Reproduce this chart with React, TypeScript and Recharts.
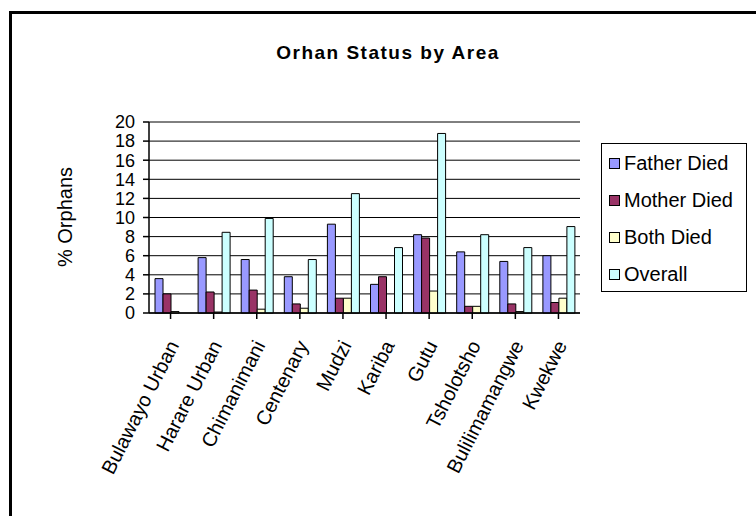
import { BarChart, Bar, XAxis, YAxis, CartesianGrid, ReferenceLine } from "recharts";

const areas = [
  "Bulawayo Urban",
  "Harare Urban",
  "Chimanimani",
  "Centenary",
  "Mudzi",
  "Kariba",
  "Gutu",
  "Tsholotsho",
  "Bulilimamangwe",
  "Kwekwe",
];
const fatherDied = [3.6, 5.8, 5.6, 3.8, 9.3, 3.0, 8.2, 6.4, 5.4, 6.0];
const motherDied = [2.0, 2.2, 2.4, 0.95, 1.55, 3.8, 7.85, 0.7, 0.95, 1.1];
const bothDied = [0.15, 0.1, 0.4, 0.5, 1.55, 0, 2.3, 0.7, 0.15, 1.55];
const overall = [null, 8.45, 9.9, 5.6, 12.5, 6.85, 18.8, 8.2, 6.85, 9.05];
const yTicks = [0, 2, 4, 6, 8, 10, 12, 14, 16, 18, 20];

const series = [
  { key: "father", name: "Father Died", color: "#9999FF" },
  { key: "mother", name: "Mother Died", color: "#993366" },
  { key: "both", name: "Both Died", color: "#FFFFCC" },
  { key: "overall", name: "Overall", color: "#CCFFFF" },
];

const data = areas.map((area, i) => ({
  area,
  father: fatherDied[i],
  mother: motherDied[i],
  both: bothDied[i],
  overall: overall[i],
}));

const FONT = '"Liberation Sans", Arial, sans-serif';

// rotated category labels, Excel style
function AreaTick({ x, y, payload }: { x?: number; y?: number; payload?: { value: string } }) {
  return (
    <g transform={`translate(${(x ?? 0) + 9},${(y ?? 0) + 24})`}>
      <text transform="rotate(-63)" textAnchor="end" fontSize={20} fontFamily={FONT} fill="#000">
        {payload?.value}
      </text>
    </g>
  );
}

function LegendBox() {
  return (
    <div
      style={{
        position: "absolute",
        left: 601,
        top: 143,
        width: 146,
        height: 149,
        border: "1.5px solid #000",
        background: "#fff",
        fontFamily: FONT,
        fontSize: 20,
        boxSizing: "border-box",
      }}
    >
      {series.map((s, i) => (
        <div
          key={s.key}
          style={{ position: "absolute", left: 7, top: 7 + i * 37, display: "flex", alignItems: "center", lineHeight: "24px" }}
        >
          <span style={{ width: 9, height: 9, background: s.color, border: "1px solid #000", marginRight: 4 }} />
          <span>{s.name}</span>
        </div>
      ))}
    </div>
  );
}

export default function App() {
  return (
    <div style={{ position: "absolute", left: 0, top: 0, width: 756, height: 516, background: "#fff", overflow: "hidden" }}>
      <div
        style={{
          position: "absolute",
          left: 9,
          top: 11,
          width: 760,
          height: 520,
          borderLeft: "3px solid #000",
          borderTop: "3px solid #000",
        }}
      />
      <div
        style={{
          position: "absolute",
          left: 0,
          width: 776,
          top: 42,
          textAlign: "center",
          fontFamily: FONT,
          fontWeight: "bold",
          fontSize: 19,
          letterSpacing: 1.5,
        }}
      >
        Orhan Status by Area
      </div>
      <div
        style={{
          position: "absolute",
          left: 65,
          top: 217,
          transform: "translate(-50%, -50%) rotate(-90deg)",
          fontFamily: FONT,
          fontSize: 20,
          whiteSpace: "nowrap",
        }}
      >
        % Orphans
      </div>
      <div style={{ position: "absolute", left: 0, top: 0 }}>
        <BarChart
          width={756}
          height={516}
          data={data}
          margin={{ top: 122, right: 176, bottom: 0, left: 89 }}
          barCategoryGap={6}
          barGap={0}
        >
          <CartesianGrid vertical={false} stroke="#000" strokeWidth={1} />
          <XAxis
            dataKey="area"
            interval={0}
            height={203}
            tick={<AreaTick />}
            tickSize={6}
            axisLine={{ stroke: "#000", strokeWidth: 1.5 }}
            tickLine={{ stroke: "#000", strokeWidth: 1.5 }}
          />
          <YAxis
            width={60}
            domain={[0, 20]}
            ticks={yTicks}
            interval={0}
            tickSize={6}
            tickMargin={8}
            tick={{ fontSize: 18, fill: "#000", fontFamily: FONT }}
            axisLine={{ stroke: "#000", strokeWidth: 1.5 }}
            tickLine={{ stroke: "#000", strokeWidth: 1.5 }}
          />
          <YAxis yAxisId="right" orientation="right" width={0} tick={false} tickLine={false} axisLine={{ stroke: "#808080" }} />
          <ReferenceLine y={20} stroke="#808080" />
          {series.map((s) => (
            <Bar
              key={s.key}
              dataKey={s.key}
              name={s.name}
              fill={s.color}
              stroke="#000"
              strokeWidth={1}
              isAnimationActive={false}
            />
          ))}
        </BarChart>
      </div>
      <LegendBox />
    </div>
  );
}
